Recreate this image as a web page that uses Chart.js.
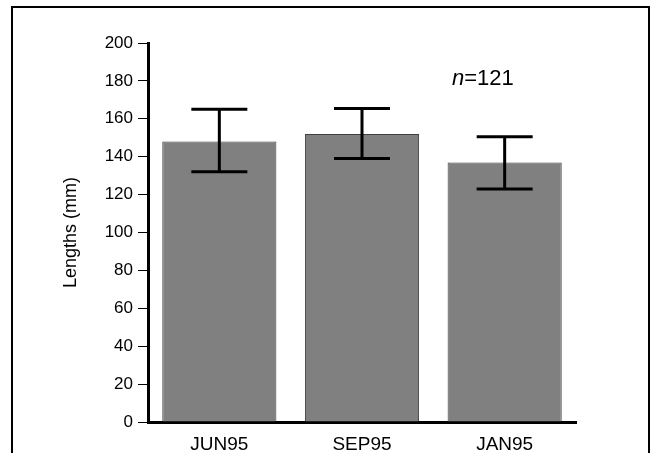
<!DOCTYPE html>
<html>
<head>
<meta charset="utf-8">
<script src="https://cdn.jsdelivr.net/npm/chart.js@4/dist/chart.umd.min.js"></script>
<style>
  html, body { margin: 0; padding: 0; background: #fff; }
  #wrap { position: relative; width: 650px; height: 453px; }
</style>
</head>
<body>
<div id="wrap"><canvas id="myChart" width="650" height="453"></canvas></div>
<script>
// data
var categories = ["JUN95", "SEP95", "JAN95"];
var lengths = [148, 152, 137];
var upper = [165, 165.5, 150.5];
var lower = [132, 139, 123];
var yTicks = [0, 20, 40, 60, 80, 100, 120, 140, 160, 180, 200];
var note = "121";

var font = "'Liberation Sans', Arial, sans-serif";

// box round the picture (no bottom edge)
const frame = {
    id: "frame",
    beforeDraw(chart) {
        const ctx = chart.ctx;
        ctx.save();
        ctx.strokeStyle = "#000";
        ctx.lineWidth = 2;
        ctx.beginPath();
        ctx.moveTo(12, 453);
        ctx.lineTo(12, 7);
        ctx.lineTo(649, 7);
        ctx.lineTo(649, 453);
        ctx.stroke();
        ctx.restore();
    }
};

const errorBars = {
    id: "errorBars",
    afterDatasetsDraw(chart) {
        const ctx = chart.ctx;
        const y = chart.scales.y;
        const meta = chart.getDatasetMeta(0);
        ctx.save();
        ctx.strokeStyle = "#000";
        ctx.lineWidth = 3;
        meta.data.forEach(function (bar, i) {
            var yHi = y.getPixelForValue(upper[i]);
            var yLo = y.getPixelForValue(lower[i]);
            var half = 28;
            ctx.beginPath();
            ctx.moveTo(bar.x, yHi);
            ctx.lineTo(bar.x, yLo);
            ctx.moveTo(bar.x - half, yHi);
            ctx.lineTo(bar.x + half, yHi);
            ctx.moveTo(bar.x - half, yLo);
            ctx.lineTo(bar.x + half, yLo);
            ctx.stroke();
        });
        // n=121 note
        ctx.fillStyle = "#000";
        ctx.textBaseline = "alphabetic";
        ctx.textAlign = "left";
        ctx.font = "italic 22px " + font;
        var x0 = 452, base = 85;
        ctx.fillText("n", x0, base);
        var w = ctx.measureText("n").width;
        ctx.font = "22px " + font;
        ctx.fillText("=" + note, x0 + w, base);
        ctx.restore();
    }
};

const data = {
    labels: categories,
    datasets: [{
        data: lengths,
        backgroundColor: "#808080",
        borderColor: "#404040",
        borderWidth: 1,
        categoryPercentage: 0.8,
        barPercentage: 1.0
    }]
};

const config = {
    type: "bar",
    data: data,
    plugins: [frame, errorBars],
    options: {
        responsive: false,
        animation: false,
        layout: { padding: { top: 43, right: 74, bottom: 0, left: 0 } },
        plugins: {
            legend: { display: false },
            tooltip: { enabled: false }
        },
        scales: {
            x: {
                grid: { display: false, drawTicks: false },
                border: { display: true, color: "#000", width: 3 },
                ticks: { color: "#000", font: { family: font, size: 19 }, padding: 11, maxRotation: 0 },
                afterFit(scale) { scale.height = 31; }
            },
            y: {
                min: 0,
                max: 200,
                afterBuildTicks(scale) {
                    scale.ticks = yTicks.map(function (v) { return { value: v }; });
                },
                grid: {
                    display: true,
                    drawOnChartArea: false,
                    drawTicks: true,
                    tickLength: 10,
                    color: "#000",
                    lineWidth: 1
                },
                border: { display: true, color: "#000", width: 3 },
                ticks: { color: "#000", font: { family: font, size: 17 }, padding: 5 },
                title: {
                    display: true,
                    text: "Lengths (mm)",
                    color: "#000",
                    font: { family: font, size: 18 },
                    padding: { top: 60, bottom: 0 }
                },
                afterFit(scale) { scale.width = 148; }
            }
        }
    }
};

const myChart = new Chart(document.getElementById("myChart"), config);
</script>
</body>
</html>
